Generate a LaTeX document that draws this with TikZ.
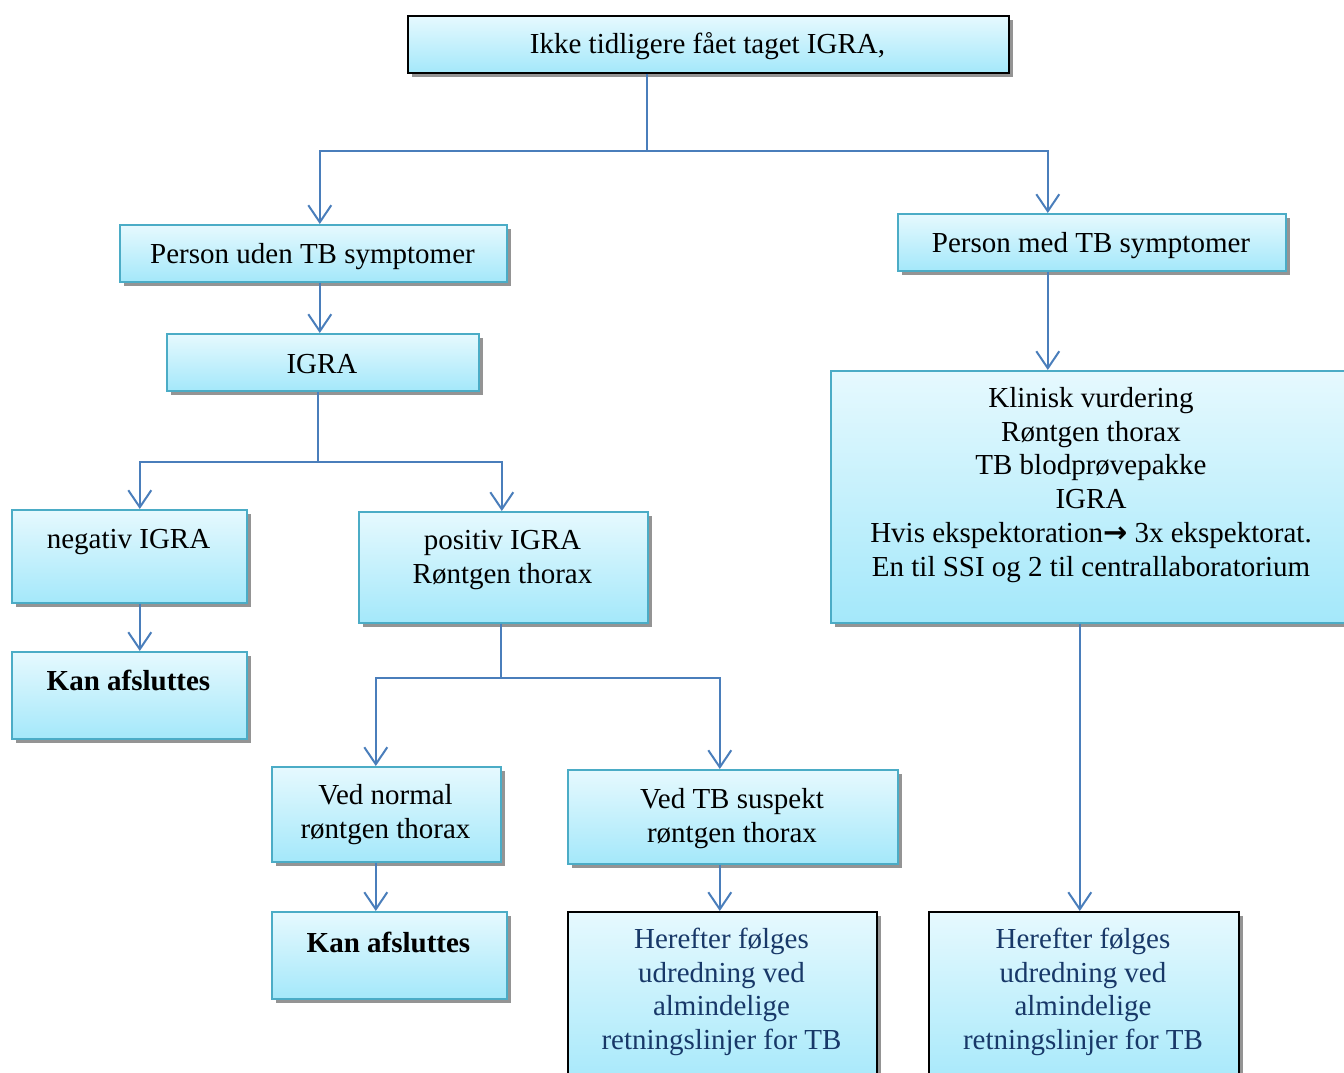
\documentclass[tikz,border=0pt]{standalone}
\usepackage{fontspec}
\setmainfont{Liberation Serif}
\newfontfamily\arrowfont{DejaVu Sans}
\usetikzlibrary{arrows.meta,shadows}
\definecolor{bxtop}{RGB}{230,249,254}
\definecolor{bxbot}{RGB}{164,232,250}
\definecolor{bxline}{RGB}{75,172,198}
\definecolor{lnblue}{RGB}{74,126,187}
\definecolor{txblue}{RGB}{24,56,104}
\newcommand\fsz{\fontsize{29}{33.8}\selectfont}
\begin{document}
\begin{tikzpicture}[x=1pt,y=-1pt,
  box/.style={draw=bxline, line width=1.6pt, top color=bxtop, bottom color=bxbot,
    anchor=north west, inner sep=0pt,
    drop shadow={shadow xshift=4pt, shadow yshift=-4pt, fill=black!42, opacity=1}},
  blackbox/.style={box, draw=black},
  txt/.style={anchor=north, yshift=23.66pt, inner sep=0pt, align=center, font=\fsz},
  ln/.style={draw=lnblue, line width=2pt},
  arr/.style={ln, -{Straight Barb[length=17pt,width=23pt]}}]
\useasboundingbox (0,0) rectangle (1344,1073);
\clip (0,0) rectangle (1344,1073);

% boxes
\node[blackbox, minimum width=601pt, minimum height=57pt] (top) at (407,15) {};
\node[box, minimum width=387pt, minimum height=57pt] (uden) at (119,224) {};
\node[box, minimum width=388pt, minimum height=57pt] (med) at (897,213) {};
\node[box, minimum width=312pt, minimum height=57pt] (igra) at (166,333) {};
\node[box, minimum width=235pt, minimum height=93pt] (neg) at (11,509) {};
\node[box, minimum width=235pt, minimum height=87pt] (kan1) at (11,651) {};
\node[box, minimum width=289pt, minimum height=111pt] (pos) at (358,511) {};
\node[box, minimum width=530pt, minimum height=252pt] (klin) at (830,370) {};
\node[box, minimum width=229pt, minimum height=95pt] (norm) at (271,766) {};
\node[box, minimum width=235pt, minimum height=87pt] (kan2) at (271,911) {};
\node[box, minimum width=330pt, minimum height=94pt] (susp) at (567,769) {};
\node[blackbox, minimum width=309pt, minimum height=180pt] (her1) at (567,911) {};
\node[blackbox, minimum width=310pt, minimum height=180pt] (her2) at (928,911) {};

% texts
\node[txt] (ttop) at (707.5,53) {\strut Ikke tidligere fået taget IGRA,};
\node[txt] (tuden) at (312.5,263) {\strut Person uden TB symptomer};
\node[txt] (tmed) at (1091,252) {\strut Person med TB symptomer};
\node[txt] (tigra) at (322,373) {\strut IGRA};
\node[txt] (tneg) at (128.5,548) {\strut negativ IGRA};
\node[txt] (tkan1) at (128.5,690) {\strut\textbf{Kan afsluttes}};
\node[txt] (tpos) at (502.5,549) {\strut positiv IGRA\\Røntgen thorax};
\node[txt] (tklin) at (1091,407) {\strut Klinisk vurdering\\Røntgen thorax\\TB blodprøvepakke\\IGRA\\Hvis ekspektoration{\arrowfont\bfseries →} 3x ekspektorat.\\En til SSI og 2 til centrallaboratorium};
\node[txt] (tnorm) at (385.5,804) {\strut Ved normal\\røntgen thorax};
\node[txt] (tkan2) at (388.5,952) {\strut\textbf{Kan afsluttes}};
\node[txt] (tsusp) at (732,808) {\strut Ved TB suspekt\\røntgen thorax};
\node[txt, text=txblue] (ther1) at (721.5,948) {\strut Herefter følges\\udredning ved\\almindelige\\retningslinjer for TB};
\node[txt, text=txblue] (ther2) at (1083,948) {\strut Herefter følges\\udredning ved\\almindelige\\retningslinjer for TB};

% connectors
\coordinate (j0) at (647,151);
\draw[ln] (top.south -| j0) -- (j0);
\draw[arr] (j0) -| ([xshift=6.5pt]uden.north);
\draw[arr] (j0) -| ([xshift=-44pt]med.north);
\draw[arr] ([xshift=6.5pt]uden.south) -- ([xshift=6.5pt]uden.south |- igra.north);
\coordinate (j1) at (318,462);
\draw[ln] (igra.south -| j1) -- (j1);
\draw[arr] (j1) -| ([xshift=10.5pt]neg.north);
\draw[arr] (j1) -| ([xshift=-1.5pt]pos.north);
\draw[arr] ([xshift=10.5pt]neg.south) -- ([xshift=10.5pt]kan1.north);
\coordinate (j2) at (501,678);
\draw[ln] (pos.south -| j2) -- (j2);
\draw[arr] (j2) -| ([xshift=-10.5pt]norm.north);
\draw[arr] (j2) -| ([xshift=-13pt]susp.north);
\draw[arr] ([xshift=-10.5pt]norm.south) -- ([xshift=-10.5pt]norm.south |- kan2.north);
\draw[arr] ([xshift=-13pt]susp.south) -- ([xshift=-13pt]susp.south |- her1.north);
\draw[arr] ([xshift=-44pt]med.south) -- ([xshift=-44pt]med.south |- klin.north);
\draw[arr] ([xshift=-16pt]klin.south) -- ([xshift=-16pt]klin.south |- her2.north);
\end{tikzpicture}
\end{document}
